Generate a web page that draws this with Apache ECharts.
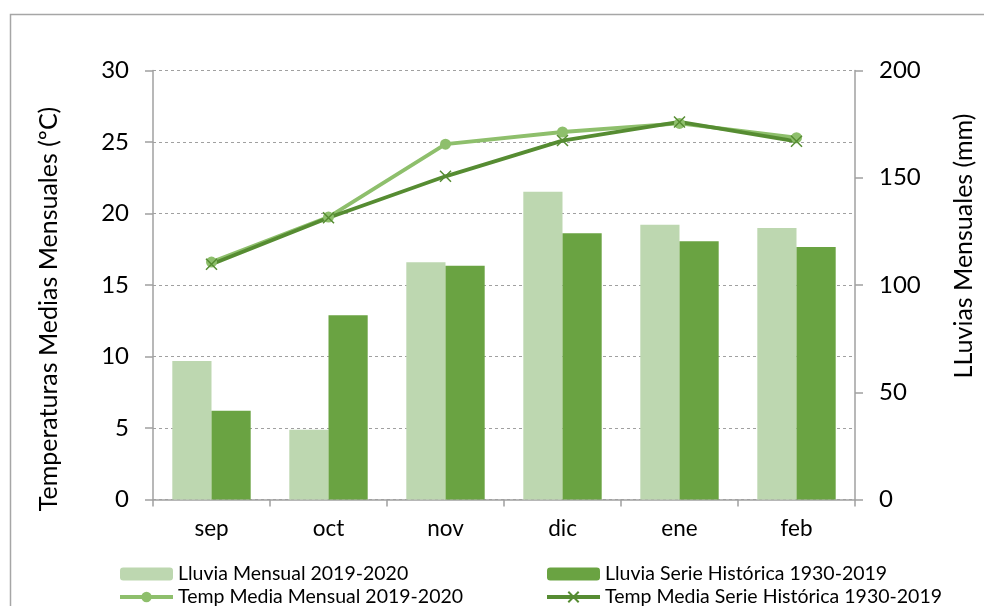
<!DOCTYPE html>
<html>
<head>
<meta charset="utf-8">
<script src="https://cdn.jsdelivr.net/npm/echarts@6/dist/echarts.min.js"></script>
<style>
  html, body { margin: 0; padding: 0; background: #fff; }
  #chart { width: 984px; height: 606px; }
</style>
</head>
<body>
<div id="chart"></div>
<script>
// datos
const months = ['sep', 'oct', 'nov', 'dic', 'ene', 'feb'];
const lluviaMensual = [64.6, 32.5, 110.6, 143.5, 128.1, 126.6];
const lluviaHistorica = [41.4, 85.9, 109.0, 124.1, 120.4, 117.7];
const tempMensual = [16.6, 19.75, 24.85, 25.7, 26.3, 25.3];
const tempHistorica = [16.45, 19.7, 22.6, 25.1, 26.4, 25.05];

const FONT = 'Lato';
const gray = '#a0a0a0';
const cLluviaMes = '#bdd7b0';
const cLluviaHist = '#6aa342';
const cTempMes = '#8ebf6c';
const cTempHist = '#568c32';

let myChart = echarts.init(document.getElementById('chart'));

let legendText = { fontFamily: FONT, fontSize: 19.5, color: '#000' };

let option = {
  backgroundColor: '#fff',
  animation: false,
  textStyle: { fontFamily: FONT },
  graphic: [{
    type: 'rect',
    shape: { x: 10.5, y: 14.5, width: 1000, height: 700 },
    style: { fill: 'none', stroke: '#a6a6a6', lineWidth: 1.5 },
    silent: true
  }],
  grid: { left: 153, right: 127, top: 70.5, bottom: 106.5 },
  legend: [{
    orient: 'vertical',
    left: 118, top: 564, height: 60,
    padding: 0,
    itemWidth: 53, itemHeight: 13, itemGap: 3,
    lineStyle: { width: 4 },
    textStyle: legendText,
    data: ['Lluvia Mensual 2019-2020', 'Temp Media Mensual 2019-2020']
  }, {
    orient: 'vertical',
    left: 545, top: 564, height: 60,
    padding: 0,
    itemWidth: 53, itemHeight: 13, itemGap: 3,
    lineStyle: { width: 4 },
    textStyle: legendText,
    data: ['Lluvia Serie Histórica 1930-2019', 'Temp Media Serie Histórica 1930-2019']
  }],
  xAxis: {
    type: 'category',
    data: months,
    boundaryGap: true,
    axisLine: { lineStyle: { color: gray, width: 1.5 } },
    axisTick: { show: true, length: 7, lineStyle: { color: gray, width: 1.5 } },
    axisLabel: { color: '#000', fontSize: 22.5, fontFamily: FONT, margin: 18 }
  },
  yAxis: [{
    type: 'value',
    position: 'left',
    min: 0, max: 30, interval: 5,
    name: 'Temperaturas Medias Mensuales (ºC)',
    nameLocation: 'middle',
    nameRotate: 90,
    nameGap: 92,
    nameTextStyle: { color: '#000', fontSize: 25, fontFamily: FONT, padding: [0, 48, 0, 0] },
    axisLine: { show: true, lineStyle: { color: gray, width: 1.5 } },
    axisTick: { show: true, length: 8, lineStyle: { color: gray, width: 1.5 } },
    axisLabel: { color: '#000', fontSize: 24, fontFamily: FONT, margin: 24 },
    splitLine: { show: true, lineStyle: { color: gray, width: 1, type: [3, 3] } }
  }, {
    type: 'value',
    position: 'right',
    min: 0, max: 200, interval: 50,
    name: 'LLuvias Mensuales (mm)',
    nameLocation: 'middle',
    nameRotate: 90,
    nameGap: 96,
    nameTextStyle: { color: '#000', fontSize: 25, fontFamily: FONT, padding: [0, 0, 0, 78] },
    axisLine: { show: true, lineStyle: { color: gray, width: 1.5 } },
    axisTick: { show: true, length: 8, lineStyle: { color: gray, width: 1.5 } },
    axisLabel: { color: '#000', fontSize: 24, fontFamily: FONT, margin: 24 },
    splitLine: { show: false }
  }],
  series: [{
    name: 'Lluvia Mensual 2019-2020',
    type: 'bar',
    yAxisIndex: 1,
    barGap: '0%',
    barCategoryGap: '33%',
    itemStyle: { color: cLluviaMes },
    data: lluviaMensual
  }, {
    name: 'Lluvia Serie Histórica 1930-2019',
    type: 'bar',
    yAxisIndex: 1,
    barGap: '0%',
    barCategoryGap: '33%',
    itemStyle: { color: cLluviaHist },
    data: lluviaHistorica
  }, {
    name: 'Temp Media Mensual 2019-2020',
    type: 'line',
    yAxisIndex: 0,
    symbol: 'circle',
    symbolSize: 11,
    lineStyle: { color: cTempMes, width: 3.8 },
    itemStyle: { color: cTempMes },
    data: tempMensual
  }, {
    name: 'Temp Media Serie Histórica 1930-2019',
    type: 'line',
    yAxisIndex: 0,
    symbol: 'path://M0 0L10 10M10 0L0 10',
    symbolSize: 11,
    lineStyle: { color: cTempHist, width: 3.8 },
    itemStyle: { color: cTempHist, borderColor: cTempHist, borderWidth: 1.5 },
    data: tempHistorica
  }]
};

myChart.setOption(option);
</script>
</body>
</html>
